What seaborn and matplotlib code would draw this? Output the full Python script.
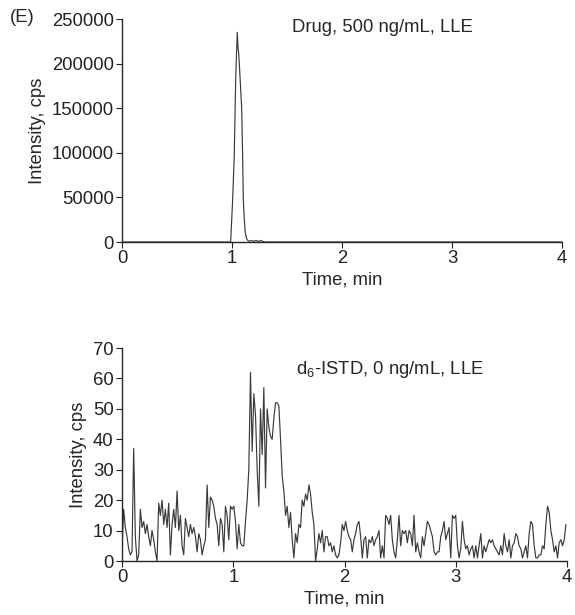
import numpy as np
import pandas as pd
import matplotlib
matplotlib.use('Agg')
import matplotlib.pyplot as plt
import seaborn as sns

# Panel (E) top: drug chromatogram, 500 ng/mL
drug_time = [0.0, 0.95, 0.988, 1.005, 1.02, 1.035, 1.048, 1.055, 1.062, 1.075,
             1.088, 1.096, 1.103, 1.112, 1.121, 1.135, 1.15, 1.18, 1.2, 1.22,
             1.24, 1.26, 1.28, 1.3, 4.0]
drug_cps = [0, 0, 0, 45000, 95000, 190000, 235000, 218000, 210000, 180000,
            150000, 100000, 47000, 25000, 10000, 3000, 1000, 1500, 800, 1800,
            500, 1800, 600, 0, 0]

# Panel (E) bottom: d6-ISTD trace, 0 ng/mL (one scan every 0.015 min)
istd_dt = 0.015
istd_cps = [
    4, 17, 11, 8, 4, 2, 3, 37, 8, 0,
    2, 17, 11, 13, 9, 12, 8, 5, 10, 7,
    3, 0, 19, 15, 20, 12, 17, 11, 19, 2,
    12, 17, 11, 23, 10, 15, 5, 2, 14, 11,
    8, 12, 9, 11, 8, 3, 9, 7, 2, 5,
    7, 25, 11, 21, 20, 18, 14, 12, 5, 14,
    12, 3, 18, 15, 7, 18, 17, 18, 13, 4,
    12, 6, 5, 5, 13, 20, 30, 62, 36, 55,
    48, 30, 18, 50, 35, 57, 24, 50, 44, 41,
    40, 47, 52, 52, 51, 40, 28, 23, 15, 18,
    11, 16, 7, 1, 9, 6, 12, 11, 20, 18,
    22, 20, 25, 22, 16, 12, 0, 4, 9, 6,
    10, 3, 8, 8, 5, 6, 3, 5, 2, 1,
    2, 6, 12, 10, 13, 10, 8, 7, 3, 7,
    9, 12, 13, 8, 1, 7, 8, 1, 7, 6,
    8, 5, 7, 8, 10, 1, 5, 1, 15, 14,
    12, 15, 7, 3, 1, 7, 15, 5, 10, 9,
    10, 6, 10, 9, 5, 15, 3, 6, 3, 1,
    8, 5, 9, 13, 12, 10, 8, 3, 2, 3,
    3, 8, 10, 13, 7, 9, 11, 1, 15, 14,
    15, 5, 1, 4, 13, 7, 4, 5, 2, 4,
    5, 1, 5, 1, 5, 9, 1, 5, 3, 5,
    7, 6, 7, 5, 4, 3, 2, 5, 2, 9,
    5, 3, 7, 1, 5, 6, 9, 8, 5, 4,
    1, 3, 5, 1, 9, 13, 12, 5, 1, 1,
    2, 2, 5, 4, 12, 18, 16, 10, 7, 3,
    5, 1, 6, 7, 5, 7, 12,
]
istd_time = np.arange(len(istd_cps)) * istd_dt

top_ticks = [0, 50000, 100000, 150000, 200000, 250000]
bottom_ticks = [0, 10, 20, 30, 40, 50, 60, 70]
time_ticks = [0, 1, 2, 3, 4]

sns.set_style('ticks')
plt.rcParams['font.family'] = ['Liberation Sans', 'DejaVu Sans']
plt.rcParams['mathtext.fontset'] = 'custom'
plt.rcParams['mathtext.rm'] = 'Liberation Sans'
plt.rcParams['font.size'] = 13.3
plt.rcParams['axes.linewidth'] = 1.0
plt.rcParams['xtick.major.size'] = 4
plt.rcParams['ytick.major.size'] = 4
plt.rcParams['xtick.major.pad'] = 2
plt.rcParams['ytick.major.pad'] = 2

W, H = 575, 615
fig = plt.figure(figsize=(W / 100, H / 100), dpi=100)
ax1 = fig.add_axes([122 / W, 1 - 242 / H, 440 / W, 223 / H])
ax2 = fig.add_axes([122 / W, 1 - 561 / H, 445 / W, 213 / H])

line_col = '#3a3a3a'

drug = pd.DataFrame({'time': drug_time, 'cps': drug_cps})
sns.lineplot(data=drug, x='time', y='cps', ax=ax1, color=line_col,
             linewidth=0.85, estimator=None)
istd = pd.DataFrame({'time': istd_time, 'cps': istd_cps})
sns.lineplot(data=istd, x='time', y='cps', ax=ax2, color=line_col,
             linewidth=0.85, estimator=None)

ax1.set_ylim(0, 250000)
ax1.set_yticks(top_ticks)
ax2.set_ylim(0, 70)
ax2.set_yticks(bottom_ticks)

for ax in (ax1, ax2):
    ax.set_xlim(0, 4)
    ax.set_xticks(time_ticks)
    ax.set_xlabel('Time, min', labelpad=3)
    ax.set_ylabel('Intensity, cps', labelpad=4)
    sns.despine(ax=ax)
    ax.tick_params(colors='#222222', labelcolor='#222222')

ax1.text(0.386, 1.0, 'Drug, 500 ng/mL, LLE', transform=ax1.transAxes,
         ha='left', va='top')
ax2.text(0.392, 0.95, 'd$_\\mathregular{6}$-ISTD, 0 ng/mL, LLE',
         transform=ax2.transAxes, ha='left', va='top')
fig.text(10 / W, 1 - 18 / H, '(E)', ha='left', va='center')

fig.savefig('out.png', dpi=100)
